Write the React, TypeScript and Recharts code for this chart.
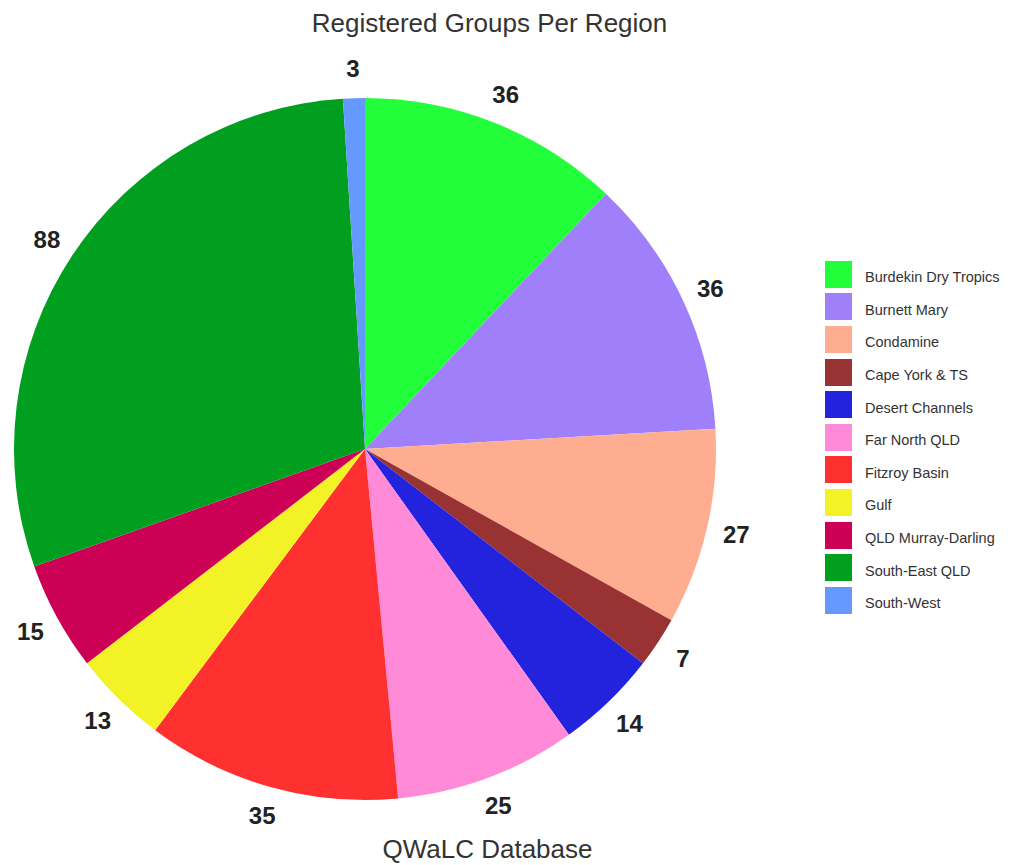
import React from 'react';
import { PieChart, Pie, Cell, Legend } from 'recharts';

const regions = [
  'Burdekin Dry Tropics',
  'Burnett Mary',
  'Condamine',
  'Cape York & TS',
  'Desert Channels',
  'Far North QLD',
  'Fitzroy Basin',
  'Gulf',
  'QLD Murray-Darling',
  'South-East QLD',
  'South-West',
];
const groups = [36, 36, 27, 7, 14, 25, 35, 13, 15, 88, 3];
const colors = [
  '#22ff3a',
  '#9f80fa',
  '#ffad90',
  '#993333',
  '#2323dd',
  '#ff8ad8',
  '#ff3030',
  '#f2f226',
  '#cc0055',
  '#009f1f',
  '#6699ff',
];

const data = regions.map((name, i) => ({ name, value: groups[i] }));

const FONT = '"Liberation Sans", Arial, Helvetica, sans-serif';
const RAD = Math.PI / 180;

const renderLabel = (props: any) => {
  const { cx, cy, midAngle, outerRadius, value } = props;
  const r = outerRadius + 30;
  const x = cx + r * Math.cos(-midAngle * RAD);
  const y = cy + r * Math.sin(-midAngle * RAD);
  return (
    <text x={x} y={y} textAnchor="middle" dominantBaseline="central" fill="#222" fontSize={24} fontWeight="bold" fontFamily={FONT}>
      {value}
    </text>
  );
};

const renderLegend = () => (
  <div style={{ fontFamily: FONT, fontSize: 14.5, color: '#333' }}>
    {regions.map((name, i) => (
      <div key={name} style={{ display: 'flex', alignItems: 'center', height: 32.6 }}>
        <div style={{ width: 27, height: 27, background: colors[i], marginRight: 13 }} />
        <span style={{ position: 'relative', top: 3 }}>{name}</span>
      </div>
    ))}
  </div>
);

export default function App() {
  return (
    <div style={{ position: 'absolute', left: 0, top: 0, width: 1011, height: 865, background: '#fff', overflow: 'hidden' }}>
      <div style={{ position: 'absolute', left: 0, width: 979, top: 8, textAlign: 'center', fontFamily: FONT, fontSize: 26, color: '#333', whiteSpace: 'nowrap' }}>
        Registered Groups Per Region
      </div>
      <PieChart width={1011} height={865} margin={{ top: 0, right: 0, bottom: 0, left: 0 }}>
        <Pie
          data={data}
          dataKey="value"
          nameKey="name"
          cx={365}
          cy={449}
          outerRadius={351}
          startAngle={90}
          endAngle={-270}
          stroke="none"
          label={renderLabel}
          labelLine={false}
          isAnimationActive={false}
        >
          {data.map((d, i) => (
            <Cell key={d.name} fill={colors[i]} />
          ))}
        </Pie>
        <Legend
          layout="vertical"
          content={renderLegend}
          wrapperStyle={{ position: 'absolute', left: 825, top: 258, width: 190 }}
        />
      </PieChart>
      <div style={{ position: 'absolute', left: 0, width: 975, top: 836, lineHeight: '26px', textAlign: 'center', fontFamily: FONT, fontSize: 26, color: '#333', whiteSpace: 'nowrap' }}>
        QWaLC Database
      </div>
    </div>
  );
}
